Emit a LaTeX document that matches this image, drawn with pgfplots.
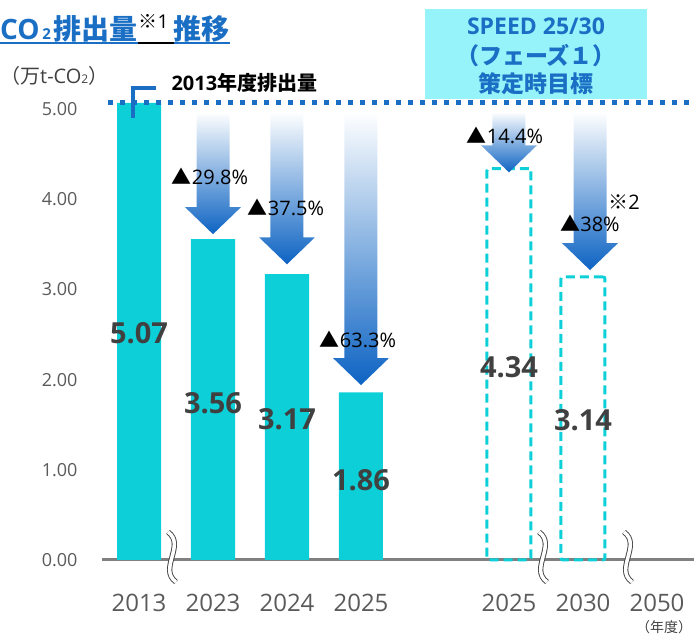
\documentclass[border=0pt]{standalone}
\usepackage{fontspec}
\setmainfont{Open Sans}
\newfontfamily\jp{Noto Sans CJK JP}
\usepackage{pgfplots}
\pgfplotsset{compat=1.18}
\usetikzlibrary{calc}
\definecolor{barcyan}{RGB}{12,207,216}
\definecolor{mblue}{RGB}{26,111,196}
\definecolor{tipblue}{RGB}{13,99,195}
\definecolor{boxcyan}{RGB}{150,243,250}
\definecolor{tickgray}{RGB}{90,90,90}
\definecolor{valgray}{RGB}{64,64,64}
\definecolor{axgray}{RGB}{128,128,128}
\newcommand{\fs}[1]{\fontsize{#1}{#1}\selectfont}
\newcommand{\arr}[3]{%
 \shade[top color=white, bottom color=tipblue]
 ($(axis cs:#1,#3)+(-16.5pt,0pt)$) -- ($(axis cs:#1,#2)+(-16.5pt,27pt)$) --
 ($(axis cs:#1,#2)+(-28pt,27pt)$) -- (axis cs:#1,#2) --
 ($(axis cs:#1,#2)+(28pt,27pt)$) -- ($(axis cs:#1,#2)+(16.5pt,27pt)$) --
 ($(axis cs:#1,#3)+(16.5pt,0pt)$) -- cycle;}
\newcommand{\brk}[1]{%
 \begin{scope}[shift={(#1pt,79pt)}]
 \draw[valgray, line width=0.9pt, double=white, double distance=3.5pt]
 (-4pt,25pt) .. controls (14pt,12pt) and (-14pt,-12pt) .. (4pt,-25pt);
 \end{scope}}
\begin{document}
\begin{tikzpicture}
\useasboundingbox (0pt,0pt) rectangle (694pt,636pt);
\begin{axis}[
 at={(102pt,76pt)}, anchor=south west,
 scale only axis, width=592pt, height=550pt,
 xmin=-0.5, xmax=7.5, ymin=0, ymax=6.1,
 clip=false,
 axis line style={draw=none}, tick style={draw=none},
 xtick={0,1,2,3,5,6,7},
 xticklabels={2013,2023,2024,2025,2025,2030,2050},
 ytick={0,1,2,3,4,5},
 /pgf/number format/assume math mode=true,
 yticklabel style={/pgf/number format/.cd, fixed, fixed zerofill, precision=2, /tikz/.cd,
   anchor=east, xshift=-21pt, font=\fs{18}, text=tickgray},
 xticklabel style={font=\fs{24}, text=tickgray, yshift=-31pt},
]
\draw[axgray, line width=3pt] (axis cs:-0.5,0) -- (axis cs:7.5,0);
\addplot[ybar, bar width=44pt, bar shift=0pt, fill=barcyan, draw=none]
 coordinates {(0,5.07) (1,3.56) (2,3.17) (3,1.86)};
\addplot[ybar, bar width=44pt, bar shift=0pt, fill=none, draw=barcyan, line width=3pt,
 dash pattern=on 9pt off 5pt, rounded corners=2pt]
 coordinates {(5,4.34) (6,3.14)};
% arrows
\arr{1}{3.614}{4.97}
\arr{2}{3.28}{4.97}
\arr{3}{1.94}{4.97}
\arr{5}{4.30}{4.97}
\arr{6.095}{3.215}{4.97}
% dotted line and marker
\draw[mblue, line width=5pt, dash pattern=on 5pt off 7pt] (axis cs:-0.42,5.07) -- (axis cs:7.5,5.07);
\draw[mblue, line width=4pt] ($(axis cs:0,5.07)+(-6pt,-15pt)$) -- ($(axis cs:0,5.07)+(-6pt,15pt)$) -- ($(axis cs:0,5.07)+(17pt,15pt)$);
\node[anchor=west, font=\fs{20}\bfseries] at ($(axis cs:0,5.07)+(29pt,20pt)$) {2013{\jp 年度排出量}};
% value labels
\node[font=\fs{29}\bfseries, text=valgray] at (axis cs:0,2.517) {5.07};
\node[font=\fs{29}\bfseries, text=valgray] at (axis cs:1,1.74) {3.56};
\node[font=\fs{29}\bfseries, text=valgray] at (axis cs:2,1.563) {3.17};
\node[font=\fs{29}\bfseries, text=valgray] at (axis cs:3,0.887) {1.86};
\node[font=\fs{29}\bfseries, text=valgray] at (axis cs:5,2.14) {4.34};
\node[font=\fs{29}\bfseries, text=valgray] at (axis cs:6,1.552) {3.14};
% percent labels
\node[font=\fs{20}] at (axis cs:0.96,4.257) {{\jp ▲}29.8\%};
\node[font=\fs{20}] at (axis cs:1.986,3.914) {{\jp ▲}37.5\%};
\node[font=\fs{20}] at (axis cs:2.96,2.45) {{\jp ▲}63.3\%};
\node[font=\fs{20}] at (axis cs:4.946,4.712) {{\jp ▲}14.4\%};
\node[font=\fs{20}] at (axis cs:6.095,3.736) {{\jp ▲}38\%};
\node[font=\fs{20}] at (axis cs:6.554,3.969) {{\jp ※}2};
\end{axis}
% breaks
\brk{172}
\brk{543}
\brk{628}
% title
\node[anchor=base west, inner sep=0, text=mblue, font=\fs{28}\bfseries] (A) at (0pt,596pt) {CO{\fs{15}\,2\,}{\jp 排出量}};
\node[anchor=base west, inner sep=0, font=\fs{19}] (B) at ($(A.base east)+(1pt,11pt)$) {{\jp ※}1};
\node[anchor=base west, inner sep=0, text=mblue, font=\fs{28}\bfseries] (C) at ($(B.base east)+(5pt,-11pt)$) {\jp 推移};
\draw[mblue, line width=2pt] ([yshift=-3.5pt]A.base west) -- ([yshift=-3.5pt]A.base east);
\draw[black, line width=2pt] ([yshift=-3.5pt]A.base east) -- ([yshift=-3.5pt]C.base west);
\draw[mblue, line width=2pt] ([yshift=-3.5pt]C.base west) -- ([yshift=-3.5pt]C.base east);
% unit
\node[anchor=west, inner sep=0, font=\fs{20}, text=valgray] at (0pt,560pt) {{\jp （万}t-CO{\fs{12}2}{\jp ）}};
% speed box
\node[fill=boxcyan, minimum width=222pt, minimum height=90pt, inner sep=0] at (536pt,582pt) {};
\node[text=mblue, font=\fs{23}\bfseries] at (536pt,609.5pt) {SPEED 25/30};
\node[text=mblue, font=\fs{23}\bfseries] at (536pt,580pt) {\jp （フェーズ１）};
\node[text=mblue, font=\fs{23}\bfseries] at (536pt,552pt) {\jp 策定時目標};
% year unit
\node[font=\fs{14}, text=valgray] at (664pt,9pt) {\jp （年度）};
\end{tikzpicture}
\end{document}
